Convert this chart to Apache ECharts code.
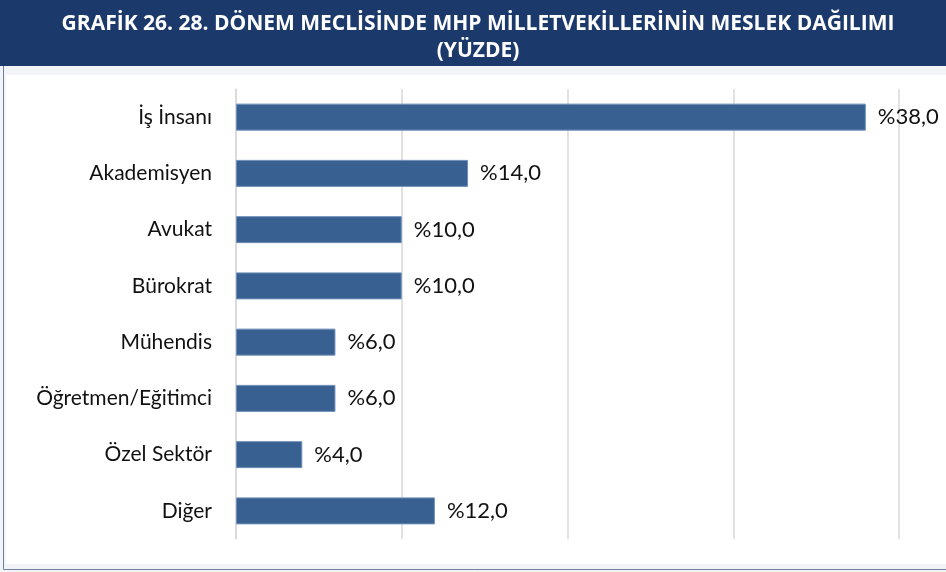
<!DOCTYPE html>
<html>
<head>
<meta charset="utf-8">
<script src="https://cdn.jsdelivr.net/npm/echarts@6/dist/echarts.min.js"></script>
<style>
  html, body { margin: 0; padding: 0; background: #fff; }
  #chart { width: 946px; height: 572px; }
</style>
</head>
<body>
<div id="chart"></div>
<script>
// meslek kategorileri (yukaridan asagiya)
const categories = ["İş İnsanı", "Akademisyen", "Avukat", "Bürokrat", "Mühendis", "Öğretmen/Eğitimci", "Özel Sektör", "Diğer"];
const values = [38.0, 14.0, 10.0, 10.0, 6.0, 6.0, 4.0, 12.0];
const xTicks = [0, 10, 20, 30, 40];

const chart = echarts.init(document.getElementById("chart"));

const option = {
  animation: false,
  backgroundColor: "#ffffff",
  title: {
    text: "GRAFİK 26. 28. DÖNEM MECLİSİNDE MHP MİLLETVEKİLLERİNİN MESLEK DAĞILIMI\n(YÜZDE)",
    left: 473,
    top: 6,
    textAlign: "center",
    textStyle: {
      color: "#ffffff",
      fontSize: 21,
      fontWeight: "bold",
      lineHeight: 27,
      fontFamily: "'Open Sans', sans-serif",
    },
  },
  graphic: [
    { type: "rect", z: -10, shape: { x: 0, y: 0, width: 946, height: 66 }, style: { fill: "#1b3a6b" } },
    { type: "rect", z: -10, shape: { x: 0, y: 66, width: 946, height: 506 }, style: { fill: "#f3f4f8" } },
    { type: "rect", z: -9, shape: { x: 6, y: 75, width: 940, height: 489 }, style: { fill: "#ffffff" } },
    { type: "line", z: -8, shape: { x1: 3.5, y1: 66, x2: 3.5, y2: 569.5 }, style: { stroke: "#6e7fa0", lineWidth: 1 } },
    { type: "line", z: -8, shape: { x1: 3.5, y1: 569.5, x2: 946, y2: 569.5 }, style: { stroke: "#6e7fa0", lineWidth: 1 } },
  ],
  grid: {
    left: 236,
    top: 89,
    width: 663,
    height: 450,
    containLabel: false,
  },
  xAxis: {
    type: "value",
    min: xTicks[0],
    max: xTicks[xTicks.length - 1],
    interval: xTicks[1] - xTicks[0],
    axisLabel: { show: false },
    axisTick: { show: false },
    axisLine: { show: false },
    splitLine: { lineStyle: { color: "#d9d9d9", width: 1.5 } },
  },
  yAxis: {
    type: "category",
    inverse: true,
    data: categories,
    axisTick: { show: false },
    axisLine: { show: true, lineStyle: { color: "#d9d9d9", width: 1.5 } },
    axisLabel: {
      margin: 24,
      color: "#111111",
      fontSize: 21,
      fontFamily: "Lato, 'Open Sans', sans-serif",
    },
  },
  series: [
    {
      type: "bar",
      data: values,
      barWidth: 27,
      itemStyle: {
        color: "#386192",
        borderColor: "#6f8fb8",
        borderWidth: 1,
      },
      label: {
        show: true,
        position: "right",
        distance: 12,
        color: "#111111",
        fontSize: 22,
        fontFamily: "Lato, 'Open Sans', sans-serif",
        formatter: (p) => "%" + p.value.toFixed(1).replace(".", ","),
      },
    },
  ],
};

chart.setOption(option);
</script>
</body>
</html>
